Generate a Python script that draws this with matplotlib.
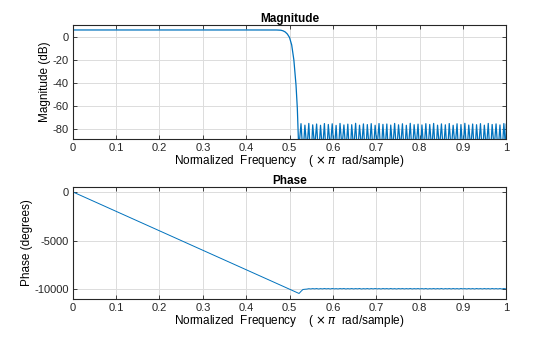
import numpy as np
import matplotlib
matplotlib.use("Agg")
import matplotlib.pyplot as plt

plt.rcParams['font.family'] = ['Liberation Sans', 'DejaVu Sans']
plt.rcParams['mathtext.fontset'] = 'dejavusans'
plt.rcParams['axes.unicode_minus'] = False

# passband + transition (normalized freq, dB)
pass_f = [0.0, 0.40, 0.47, 0.48, 0.485, 0.49, 0.495, 0.50, 0.505, 0.51, 0.515, 0.518, 0.521]
pass_db = [6.02, 6.02, 6.0, 5.8, 5.3, 4.3, 2.5, -0.5, -7.0, -20.0, -42.0, -62.0, -95.0]

# stopband lobes: nulls and peaks
null_f = [0.5220, 0.5310, 0.5400, 0.5490, 0.5580, 0.5670, 0.5760, 0.5850, 0.5940, 0.6030,
          0.6120, 0.6210, 0.6300, 0.6390, 0.6480, 0.6570, 0.6660, 0.6750, 0.6840, 0.6930,
          0.7020, 0.7110, 0.7200, 0.7290, 0.7380, 0.7470, 0.7560, 0.7650, 0.7740, 0.7830,
          0.7920, 0.8010, 0.8100, 0.8190, 0.8280, 0.8370, 0.8460, 0.8550, 0.8640, 0.8730,
          0.8820, 0.8910, 0.9000, 0.9090, 0.9180, 0.9270, 0.9360, 0.9450, 0.9540, 0.9630,
          0.9720, 0.9810, 0.9900, 0.9990]
peak_f = [0.5265, 0.5355, 0.5445, 0.5535, 0.5625, 0.5715, 0.5805, 0.5895, 0.5985, 0.6075,
          0.6165, 0.6255, 0.6345, 0.6435, 0.6525, 0.6615, 0.6705, 0.6795, 0.6885, 0.6975,
          0.7065, 0.7155, 0.7245, 0.7335, 0.7425, 0.7515, 0.7605, 0.7695, 0.7785, 0.7875,
          0.7965, 0.8055, 0.8145, 0.8235, 0.8325, 0.8415, 0.8505, 0.8595, 0.8685, 0.8775,
          0.8865, 0.8955, 0.9045, 0.9135, 0.9225, 0.9315, 0.9405, 0.9495, 0.9585, 0.9675,
          0.9765, 0.9855, 0.9945]
null_db = [-95, -102, -98, -110, -96, -104, -99, -107, -97, -101,
           -105, -96, -100, -108, -98, -103, -97, -106, -99, -102,
           -96, -104, -100, -109, -98, -101, -97, -105, -99, -103,
           -96, -107, -100, -102, -98, -106, -97, -101, -104, -99,
           -96, -108, -100, -103, -97, -105, -99, -102, -98, -106,
           -97, -101, -104, -100]
peak_db = [-75.5, -76.8, -75.3, -76.5, -75.8, -76.9, -75.4, -76.2, -75.6, -77.0,
           -75.3, -76.6, -75.9, -76.4, -75.2, -76.8, -75.7, -76.3, -75.5, -76.9,
           -75.4, -76.1, -75.8, -76.7, -75.3, -76.5, -75.6, -76.9, -75.2, -76.4,
           -75.9, -76.6, -75.5, -76.2, -75.3, -76.8, -75.7, -76.5, -75.4, -76.9,
           -75.6, -76.3, -75.2, -76.7, -75.8, -76.4, -75.5, -76.8, -75.3, -76.2,
           -75.7, -76.6, -75.4]
end_f, end_db = 1.0, -76.0

# phase (degrees)
lin_f = [0.0, 0.1, 0.2, 0.3, 0.4, 0.5]
lin_ph = [0, -2000, -4000, -6000, -8000, -10000]
null_ph = [-10440, -10030, -9990, -9975, -9970, -9980, -9972, -9968, -9978, -9970,
           -9975, -9966, -9979, -9971, -9974, -9967, -9980, -9970, -9976, -9969,
           -9973, -9978, -9966, -9975, -9971, -9979, -9968, -9974, -9970, -9977,
           -9967, -9975, -9972, -9980, -9969, -9974, -9971, -9978, -9966, -9975,
           -9970, -9977, -9968, -9974, -9972, -9979, -9967, -9975, -9970, -9976,
           -9969, -9973, -9978, -9971]
peak_ph = [-10220, -10005, -9950, -9940, -9935, -9942, -9932, -9938, -9930, -9944,
           -9936, -9931, -9941, -9934, -9939, -9930, -9943, -9935, -9937, -9932,
           -9940, -9933, -9938, -9931, -9942, -9936, -9934, -9939, -9930, -9941,
           -9935, -9937, -9932, -9943, -9934, -9938, -9931, -9940, -9936, -9933,
           -9939, -9930, -9942, -9935, -9937, -9932, -9941, -9934, -9938, -9931,
           -9940, -9936, -9933]
end_ph = -9950


def interleave(a, b):
    out = []
    for i in range(len(a)):
        out.append(a[i])
        if i < len(b):
            out.append(b[i])
    return out


mag_f = pass_f + interleave(null_f, peak_f) + [end_f]
mag_db = pass_db + interleave(null_db, peak_db) + [end_db]
ph_f = lin_f + interleave(null_f, peak_f) + [end_f]
ph_deg = lin_ph + interleave(null_ph, peak_ph) + [end_ph]

blue = '#0072BD'
xt = [0, 0.1, 0.2, 0.3, 0.4, 0.5, 0.6, 0.7, 0.8, 0.9, 1]
xtl = ['0', '0.1', '0.2', '0.3', '0.4', '0.5', '0.6', '0.7', '0.8', '0.9', '1']
xlab = r'Normalized  Frequency    ( $\times\,\pi$  rad/sample)'

fig = plt.figure(figsize=(5.6, 3.37), dpi=100)
ax1 = fig.add_axes([0.130, 0.588, 0.774, 0.338])
ax2 = fig.add_axes([0.130, 0.113, 0.774, 0.332])

ax1.plot(mag_f, mag_db, color=blue, lw=0.9)
ax1.set_ylim(-88.7, 10.4)
ax1.set_yticks([-80, -60, -40, -20, 0])
ax1.set_ylabel('Magnitude (dB)', fontsize=8.5, labelpad=1)
ax1.set_title('Magnitude', fontsize=8.5, fontweight='bold', pad=2)

ax2.plot(ph_f, ph_deg, color=blue, lw=0.7)
ax2.set_ylim(-11000, 500)
ax2.set_yticks([-10000, -5000, 0])
ax2.set_ylabel('Phase (degrees)', fontsize=8.5, labelpad=1)
ax2.set_title('Phase', fontsize=8.5, fontweight='bold', pad=2)

for ax in (ax1, ax2):
    ax.set_xlim(0, 1)
    ax.set_xticks(xt)
    ax.set_xticklabels(xtl)
    ax.set_xlabel(xlab, fontsize=8.5, labelpad=0)
    ax.grid(True, color='#dcdcdc', lw=0.7)
    ax.set_axisbelow(True)
    ax.tick_params(direction='in', length=3, width=0.6, labelsize=8,
                   top=True, right=True, pad=3, colors='#262626')
    for s in ax.spines.values():
        s.set_linewidth(0.8)
        s.set_color('#262626')

fig.savefig('out.png', dpi=100)
